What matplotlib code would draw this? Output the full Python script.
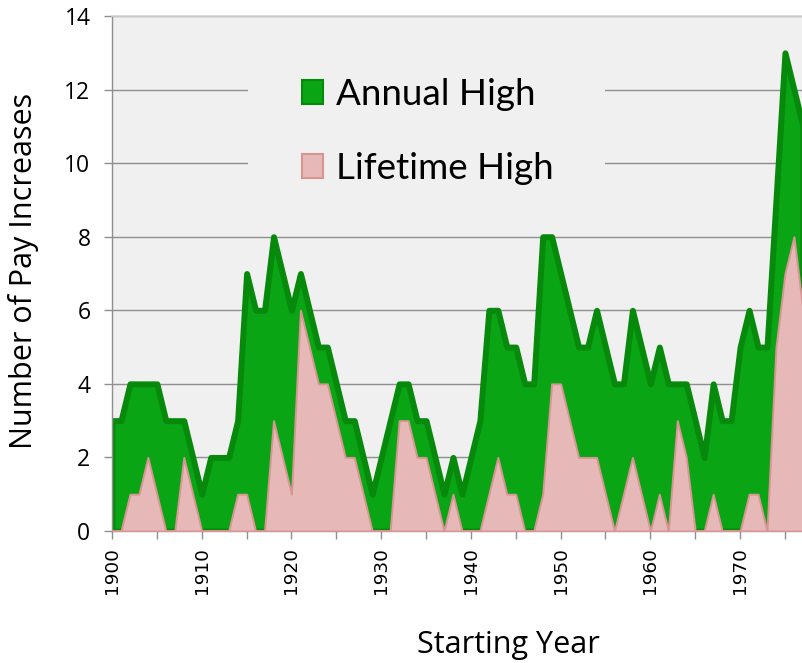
import numpy as np
import matplotlib
matplotlib.use("Agg")
import matplotlib.pyplot as plt
from matplotlib.patches import Patch, Rectangle

# data, one value per starting year 1900..1977
years = list(range(1900, 1978))
annual_high = [3, 3, 4, 4, 4, 4, 3, 3, 3, 2,
               1, 2, 2, 2, 3, 7, 6, 6, 8, 7,
               6, 7, 6, 5, 5, 4, 3, 3, 2, 1,
               2, 3, 4, 4, 3, 3, 2, 1, 2, 1,
               2, 3, 6, 6, 5, 5, 4, 4, 8, 8,
               7, 6, 5, 5, 6, 5, 4, 4, 6, 5,
               4, 5, 4, 4, 4, 3, 2, 4, 3, 3,
               5, 6, 5, 5, 9, 13, 12, 11]
lifetime_high = [0, 0, 1, 1, 2, 1, 0, 0, 2, 1,
                 0, 0, 0, 0, 1, 1, 0, 0, 3, 2,
                 1, 6, 5, 4, 4, 3, 2, 2, 1, 0,
                 0, 0, 3, 3, 2, 2, 1, 0, 1, 0,
                 0, 0, 1, 2, 1, 1, 0, 0, 1, 4,
                 4, 3, 2, 2, 2, 1, 0, 1, 2, 1,
                 0, 1, 0, 3, 2, 0, 0, 1, 0, 0,
                 0, 1, 1, 0, 5, 7, 8, 6]
series_labels = ["Annual High", "Lifetime High"]
y_ticks = [0, 2, 4, 6, 8, 10, 12, 14]
x_ticks = list(range(1900, 1980, 5))

GREEN_FILL = "#0aa515"
GREEN_EDGE = "#07890c"
PINK_FILL = "#e6b9b8"
PINK_EDGE = "#d89593"
GRID = "#8f8f8f"
BG = "#f0f0f0"

fig = plt.figure(figsize=(8.02, 6.63), dpi=100)
ax = fig.add_axes([112 / 802, 132 / 663, 690 / 802, 515 / 663])
ax.set_facecolor(BG)

x = np.array(years)
ax.fill_between(x, annual_high, 0, facecolor=GREEN_FILL, edgecolor=GREEN_EDGE,
                linewidth=4.3, joinstyle="round", zorder=2)
ax.fill_between(x, lifetime_high, 0, facecolor=PINK_FILL, edgecolor=PINK_EDGE,
                linewidth=1.4, zorder=3)

ax.set_xlim(1900, 1976.9)
ax.set_ylim(0, 14)

ax.set_yticks(y_ticks)
ax.set_yticklabels([str(v) for v in y_ticks], fontfamily="Open Sans", fontsize=16.5)
ax.set_xticks(x_ticks)
ax.set_xticklabels([str(t) if t % 10 == 0 else "" for t in x_ticks],
                   rotation=90, fontfamily="DejaVu Sans", fontsize=13.3)
ax.tick_params(axis="y", length=5.5, width=1.0, color=GRID, pad=10)
ax.tick_params(axis="x", length=5.5, width=1.0, color=GRID, pad=6)

ax.yaxis.grid(True, color=GRID, linewidth=1.0)
ax.set_axisbelow(True)
for side in ["left", "bottom"]:
    ax.spines[side].set_color(GRID)
    ax.spines[side].set_linewidth(1.0)
ax.spines["top"].set_color("#d4d4d4")
ax.spines["top"].set_linewidth(1.2)
ax.spines["right"].set_visible(False)

ax.set_ylabel("Number of Pay Increases", fontfamily="Open Sans", fontsize=22, va="center")
ax.yaxis.set_label_coords(-0.128, 0.505)
ax.set_xlabel("Starting Year", fontfamily="Open Sans", fontsize=22, va="center")
ax.xaxis.set_label_coords(0.5746, -0.221)

# the legend sits on a patch of plot background that hides the gridlines
ax.add_patch(Rectangle(((248 - 112) / 690, 0.65), (605 - 248) / 690, 0.27,
                       transform=ax.transAxes, facecolor=BG, edgecolor="none",
                       zorder=1.5))

handles = [Patch(facecolor=GREEN_FILL, edgecolor=GREEN_EDGE, linewidth=1.5),
           Patch(facecolor=PINK_FILL, edgecolor=PINK_EDGE, linewidth=1.5)]
leg = ax.legend(handles, series_labels, loc="center", bbox_to_anchor=(0.458, 0.776),
                prop={"family": "Lato", "size": 26.5}, frameon=False,
                handlelength=0.58, handleheight=0.62, handletextpad=0.35,
                labelspacing=1.1, borderpad=0, borderaxespad=0)
leg.set_zorder(5)

fig.savefig("out.png", dpi=100)
